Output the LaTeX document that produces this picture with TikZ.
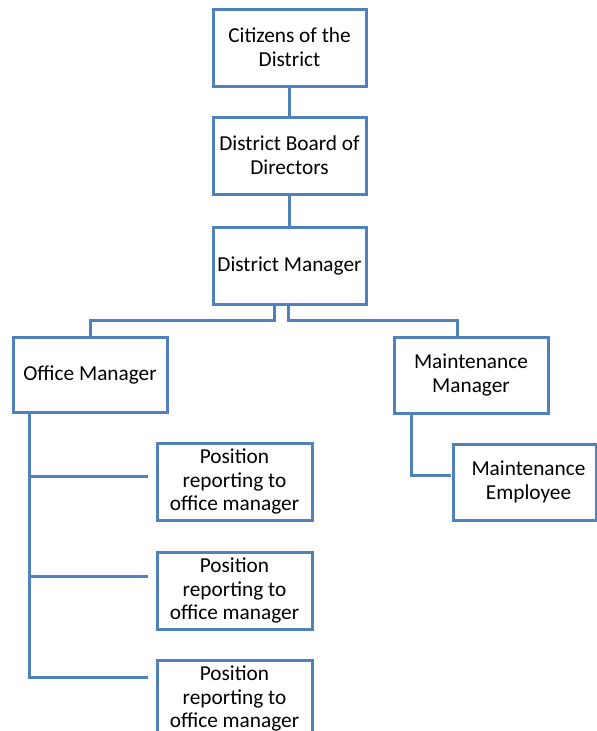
\documentclass[tikz,border=0pt]{standalone}
\usepackage{fontspec}
\setmainfont{Carlito}
\definecolor{boxblue}{RGB}{79,129,189}
\begin{document}
\begin{tikzpicture}[x=1pt,y=-1pt,
  orgbox/.style={draw=boxblue,line width=3pt,fill=white,align=center,
    inner sep=0pt,font=\fontsize{21.3}{23.8}\selectfont},
  link/.style={draw=boxblue,line width=3pt}]
\useasboundingbox (0,0) rectangle (597,731);
\node[orgbox,minimum width=153pt,minimum height=77pt] (cit) at (289.5,47.5) {Citizens of the\\District};
\node[orgbox,minimum width=153pt,minimum height=77pt] (board) at (289.5,155.5) {District Board of\\Directors};
\node[orgbox,minimum width=153pt,minimum height=77pt] (dm) at (289.5,265.5) {District Manager};
\node[orgbox,minimum width=154pt,minimum height=75pt] (om) at (90,374.5) {Office Manager};
\node[orgbox,minimum width=154pt,minimum height=76pt] (mm) at (471,375) {Maintenance\\Manager};
\node[orgbox,minimum width=143pt,minimum height=76pt] (me) at (524.5,482) {\hspace*{8pt}Maintenance\\\hspace*{8pt}Employee};
\node[orgbox,minimum width=155pt,minimum height=77pt] (p1) at (234.5,481.5) {Position\\reporting to\\office manager};
\node[orgbox,minimum width=155pt,minimum height=77pt] (p2) at (234.5,590.5) {Position\\reporting to\\office manager};
\node[orgbox,minimum width=155pt,minimum height=77pt] (p3) at (234.5,698.5) {Position\\reporting to\\office manager};
\coordinate (e1) at (148,476);
\coordinate (e2) at (148,576);
\coordinate (e3) at (148,677);
\coordinate (e4) at (451,475);
\draw[link] (cit.south) -- (board.north);
\draw[link] (board.south) -- (dm.north);
\draw[link] ([xshift=-15.5pt]dm.south) -- ++(0,15) -| (om.north);
\draw[link] ([xshift=-1.5pt]dm.south) -- ++(0,15) -| ([xshift=-14pt]mm.north);
\draw[link] ([xshift=-61pt]om.south) |- (e1);
\draw[link] ([xshift=-61pt]om.south) |- (e2);
\draw[link] ([xshift=-61pt]om.south) |- (e3);
\draw[link] ([xshift=-60pt]mm.south) |- (e4);
\end{tikzpicture}
\end{document}
